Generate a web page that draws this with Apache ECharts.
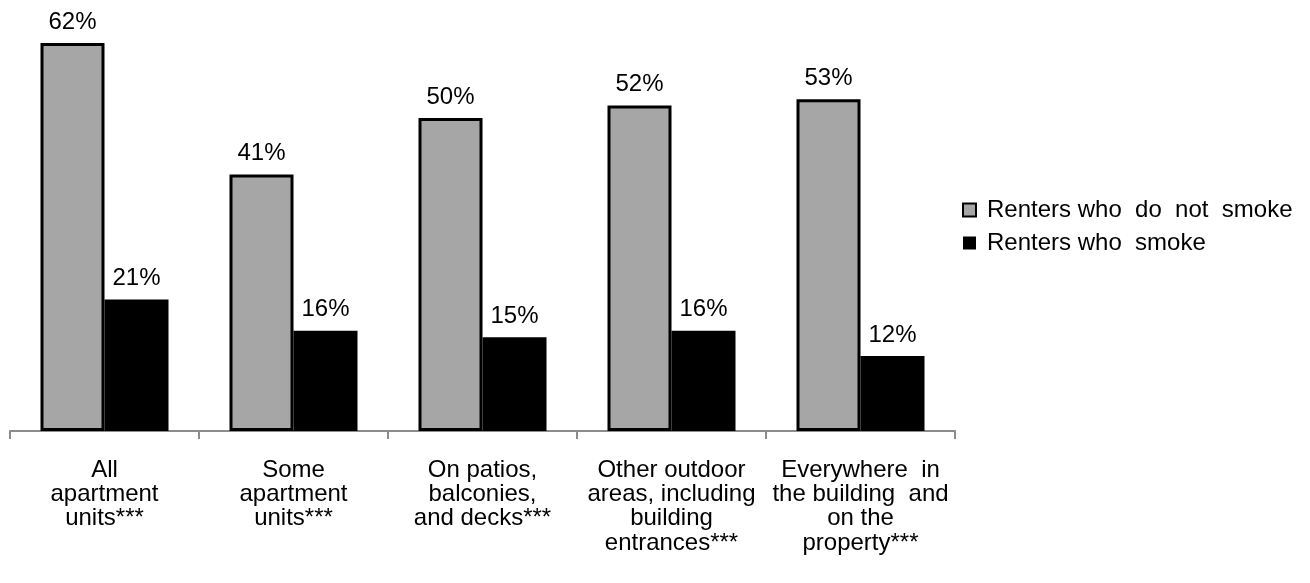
<!DOCTYPE html>
<html>
<head>
<meta charset="utf-8">
<script src="https://cdn.jsdelivr.net/npm/echarts@6/dist/echarts.min.js"></script>
<style>
html,body{margin:0;padding:0;background:#fff;}
#chart{width:1310px;height:583px;}
</style>
</head>
<body>
<div id="chart"></div>
<script>
var categories = [
  "All\napartment\nunits***",
  "Some\napartment\nunits***",
  "On patios,\nbalconies,\nand decks***",
  "Other outdoor\nareas, including\nbuilding\nentrances***",
  "Everywhere  in\nthe building  and\non the\nproperty***"
];
var nonSmokers = [62, 41, 50, 52, 53];
var smokers = [21, 16, 15, 16, 12];
var seriesNames = ["Renters who  do  not  smoke", "Renters who  smoke"];

var FONT = '"Liberation Sans", Arial, sans-serif';
var chart = echarts.init(document.getElementById('chart'), null, {renderer: 'canvas'});
chart.setOption({
  animation: false,
  backgroundColor: '#fff',
  grid: {left: 10, right: 355, top: 43, bottom: 152, containLabel: false},
  legend: {
    orient: 'vertical',
    left: 962,
    top: 198,
    padding: 0,
    itemWidth: 13,
    itemHeight: 13,
    itemGap: 9,
    icon: 'rect',
    textStyle: {fontFamily: FONT, fontSize: 24, lineHeight: 24, color: '#000', padding: [0, 0, 0, 6]},
    data: [
      {name: seriesNames[0], itemStyle: {color: '#a6a6a6', borderColor: '#000', borderWidth: 2}},
      {name: seriesNames[1], itemStyle: {color: '#000'}}
    ]
  },
  xAxis: {
    type: 'category',
    data: categories,
    axisLine: {show: true, lineStyle: {color: '#8c8c8c', width: 2}},
    axisTick: {show: true, length: 8, lineStyle: {color: '#8c8c8c', width: 2}},
    axisLabel: {
      fontFamily: FONT, fontSize: 24, color: '#000', lineHeight: 24.3,
      margin: 27, interval: 0, align: 'center'
    }
  },
  yAxis: {
    type: 'value', min: 0, max: 62, show: false,
    splitLine: {show: false}
  },
  series: [
    {
      name: seriesNames[0],
      type: 'bar',
      data: nonSmokers,
      barWidth: 64,
      barGap: '0%',
      itemStyle: {color: '#a6a6a6', borderColor: '#000', borderWidth: 3},
      label: {show: true, position: 'top', distance: 9, formatter: '{c}%',
        fontFamily: FONT, fontSize: 24, color: '#000'}
    },
    {
      name: seriesNames[1],
      type: 'bar',
      data: smokers,
      barWidth: 64,
      barGap: '0%',
      itemStyle: {color: '#000'},
      label: {show: true, position: 'top', distance: 9, formatter: '{c}%',
        fontFamily: FONT, fontSize: 24, color: '#000'}
    }
  ]
});
</script>
</body>
</html>
